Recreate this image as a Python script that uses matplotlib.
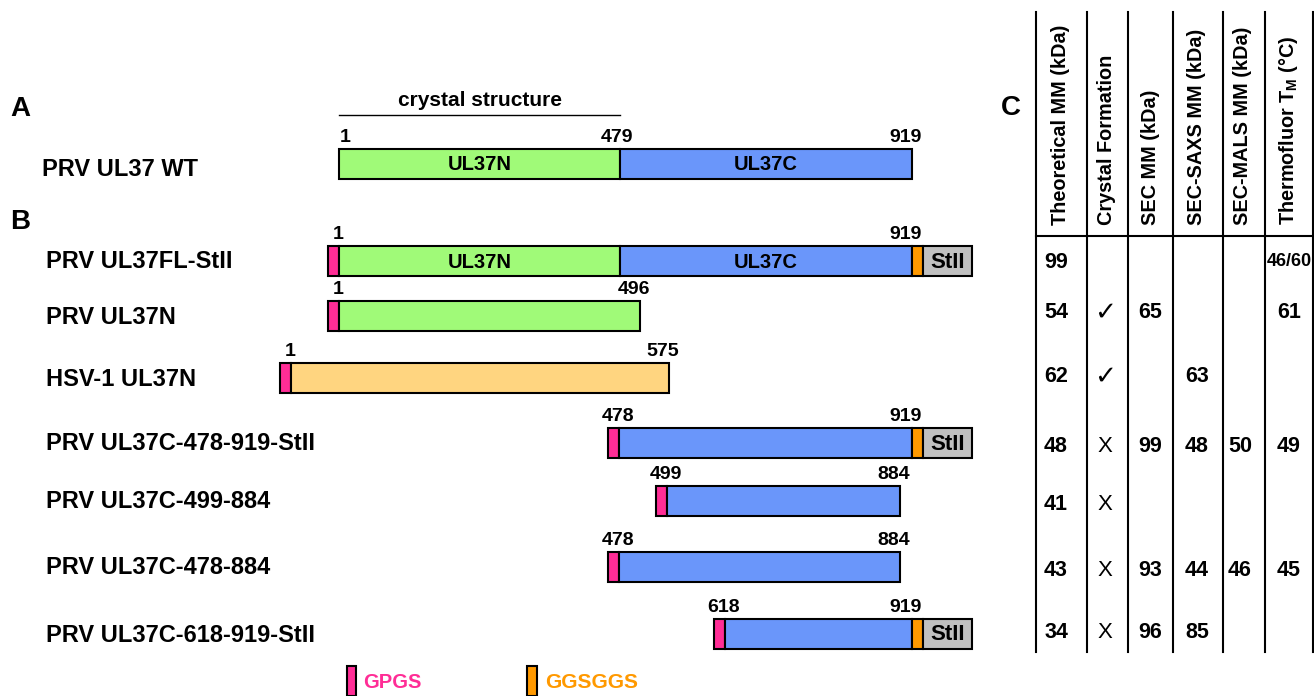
import numpy as np
import matplotlib.pyplot as plt
from matplotlib.patches import Rectangle

plt.rcParams['font.family'] = ['Liberation Sans', 'DejaVu Sans']
plt.rcParams['mathtext.fontset'] = 'custom'
plt.rcParams['mathtext.bf'] = 'Liberation Sans:bold'
plt.rcParams['mathtext.rm'] = 'Liberation Sans:bold'

# constructs (panel B)
constructs = ["PRV UL37FL-StII", "PRV UL37N", "HSV-1 UL37N",
              "PRV UL37C-478-919-StII", "PRV UL37C-499-884",
              "PRV UL37C-478-884", "PRV UL37C-618-919-StII"]
starts = [1, 1, 1, 478, 499, 478, 618]
ends = [919, 496, 575, 919, 884, 884, 919]
strep = [True, False, False, True, False, False, True]
species = ["PRV", "PRV", "HSV", "PRV", "PRV", "PRV", "PRV"]
nterm_end = 479  # UL37N / UL37C boundary
full_len = 919

# table (panel C)
columns = ["Theoretical MM (kDa)", "Crystal Formation", "SEC MM (kDa)",
           "SEC-SAXS MM (kDa)", "SEC-MALS MM (kDa)",
           r"Thermofluor T$_{\mathbf{M}}$ (°C)"]
theo_mm = ["99", "54", "62", "48", "41", "43", "34"]
crystal = ["", "✓", "✓", "X", "X", "X", "X"]
sec_mm = ["", "65", "", "99", "", "93", "96"]
saxs_mm = ["", "", "63", "48", "", "44", "85"]
mals_mm = ["", "", "", "50", "", "46", ""]
tm = ["46/60", "61", "", "49", "", "45", ""]

GREEN = "#a0fa78"
BLUE = "#6a96fa"
HSV_COL = "#ffd580"
PINK = "#ff2d96"
LINK = "#ff9900"
GRAY = "#c0c0c0"

# schematic (not to scale) placement of residues along the drawing
prv_res = [1, 479, 496, 499, 618, 884, 919]
prv_pos = [339, 620, 640, 667, 725, 900, 912]
hsv_res = [1, 575]
hsv_pos = [291, 669]


def pos(res, sp="PRV"):
    if sp == "HSV":
        return np.interp(res, hsv_res, hsv_pos)
    return np.interp(res, prv_res, prv_pos)


fig = plt.figure(figsize=(13.14, 6.96), dpi=100)
ax = fig.add_axes([0, 0, 1, 1])
ax.set_xlim(0, 1314)
ax.set_ylim(696, 0)
ax.axis('off')

H = 30
TAG = 11
FS_ROW = 17
FS_NUM = 14
FS_DOM = 14.5


def box(x0, x1, yc, color, lw=1.5):
    ax.add_patch(Rectangle((x0, yc - H / 2), x1 - x0, H, facecolor=color,
                           edgecolor='black', linewidth=lw, zorder=2))


def two_domains(x0, xm, x1, y):
    box(x0, xm, y, GREEN)
    box(xm, x1, y, BLUE)
    ax.text((x0 + xm) / 2, y + 1, "UL37N", fontsize=FS_DOM, fontweight='bold',
            ha='center', va='center', zorder=3)
    ax.text((xm + x1) / 2, y + 1, "UL37C", fontsize=FS_DOM, fontweight='bold',
            ha='center', va='center', zorder=3)


# panel A
ax.text(10, 109, "A", fontsize=20, fontweight='bold', va='center')
ax.text(480, 100, "crystal structure", fontsize=15, fontweight='bold',
        ha='center', va='center')
ax.plot([pos(1), pos(nterm_end)], [115, 115], color='black', lw=1)
yA = 164
ax.text(42, 170, "PRV UL37 WT", fontsize=FS_ROW, fontweight='bold',
        va='center')
two_domains(pos(1), pos(nterm_end), pos(full_len), yA)
ax.text(pos(1) + 1, yA - H / 2 - 3, "1", fontsize=FS_NUM, fontweight='bold',
        ha='left', va='bottom')
ax.text(pos(nterm_end) - 3, yA - H / 2 - 3, "479", fontsize=FS_NUM,
        fontweight='bold', ha='center', va='bottom')
ax.text(pos(full_len) - 6, yA - H / 2 - 3, "919", fontsize=FS_NUM,
        fontweight='bold', ha='center', va='bottom')

# panel B
ax.text(10, 222, "B", fontsize=20, fontweight='bold', va='center')
row_y = [261, 316, 378, 443, 501, 567, 634]
for i, name in enumerate(constructs):
    y = row_y[i]
    sp = species[i]
    x0 = pos(starts[i], sp)
    x1 = pos(ends[i], sp)
    ax.text(46, y + 1, name, fontsize=FS_ROW, fontweight='bold', va='center')
    box(x0 - TAG, x0, y, PINK)
    if sp == "HSV":
        box(x0, x1, y, HSV_COL)
    elif starts[i] == 1 and ends[i] == full_len:
        two_domains(x0, pos(nterm_end), x1, y)
    elif starts[i] == 1:
        box(x0, x1, y, GREEN)
    else:
        box(x0, x1, y, BLUE)
    if strep[i]:
        box(x1, x1 + TAG, y, LINK)
        box(x1 + TAG, x1 + TAG + 49, y, GRAY)
        ax.text(x1 + TAG + 24.5, y + 1, "StII", fontsize=16,
                fontweight='bold', ha='center', va='center', zorder=3)
    ax.text(x0 - 1, y - H / 2 - 3, str(starts[i]), fontsize=FS_NUM,
            fontweight='bold', ha='center', va='bottom')
    ax.text(x1 - 6, y - H / 2 - 3, str(ends[i]), fontsize=FS_NUM,
            fontweight='bold', ha='center', va='bottom')

# legend for the tags
ax.add_patch(Rectangle((347, 666), 9, 30, facecolor=PINK, edgecolor='black',
                       linewidth=1.5))
ax.text(363, 682, "GPGS", fontsize=14.5, fontweight='bold', color=PINK,
        va='center')
ax.add_patch(Rectangle((527, 666), 10, 30, facecolor=LINK, edgecolor='black',
                       linewidth=1.5))
ax.text(545, 682, "GGSGGS", fontsize=15, fontweight='bold', color=LINK,
        va='center')

# panel C
ax.text(1001, 108, "C", fontsize=20, fontweight='bold', va='center')
vlines = [1036, 1087, 1128, 1173, 1223, 1265, 1313]
for x in vlines:
    ax.plot([x, x], [12, 652], color='black', lw=1.5)
ax.plot([1036, 1314], [236, 236], color='black', lw=1.5)
head_x = [1060, 1106, 1151, 1197, 1243, 1289]
for x, lab in zip(head_x, columns):
    ax.text(x, 225, lab, fontsize=14.3, fontweight='bold', rotation=90,
            ha='center', va='bottom')

tab_y = [262, 313, 377, 447, 504, 570, 633]
col_x = [1056, 1105, 1150, 1197, 1240, 1289]
table = [theo_mm, crystal, sec_mm, saxs_mm, mals_mm, tm]
for j, col in enumerate(table):
    for i, v in enumerate(col):
        if not v:
            continue
        if v == "✓":
            ax.text(col_x[j], tab_y[i], v, fontsize=19, fontweight='bold',
                    ha='center', va='center', family=['DejaVu Sans'])
        elif v == "X":
            ax.text(col_x[j], tab_y[i], v, fontsize=16, ha='center',
                    va='center')
        else:
            fs = 13 if "/" in v else 15.5
            ax.text(col_x[j], tab_y[i], v, fontsize=fs, fontweight='bold',
                    ha='center', va='center')

fig.savefig('out.png', dpi=100)
